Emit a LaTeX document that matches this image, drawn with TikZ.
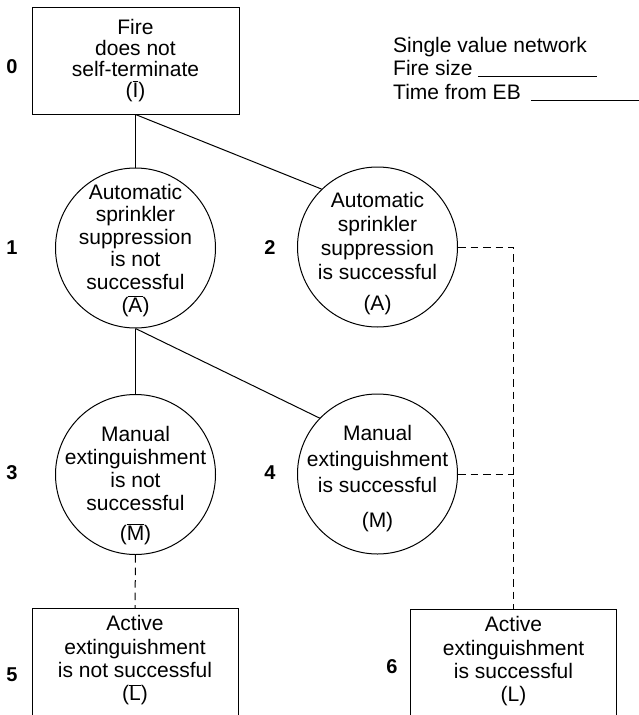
\documentclass[tikz,border=0pt]{standalone}
\usepackage{fontspec}
\setmainfont{Liberation Sans}
% letter with a bar over it, for the complementary events
\newcommand{\barred}[1]{\ensuremath{\overline{\hbox{#1}}}}
% struts that set the height of a first line / depth of a last line
\newcommand{\firstline}[1]{\rule{0pt}{#1pt}}
\newcommand{\lastline}{\rule[-5pt]{0pt}{5pt}}
\begin{document}
\begin{tikzpicture}[x=1pt,y=-1pt,
  spaced/.style={font=\fontsize{21}{#1}\selectfont},
  stage/.style={font=\fontsize{20}{24}\selectfont\bfseries, inner sep=0pt},
  solidlink/.style={line width=1pt},
  dashlink/.style={line width=1pt, dash pattern=on 7.5pt off 5pt},
  event/.style={draw, line width=1pt, circle, minimum size=160pt, inner sep=-40pt, align=center},
  outcome/.style={draw, line width=1pt, rectangle, minimum width=206pt, inner xsep=4pt, inner ysep=7pt, align=center, anchor=north},
  legend/.style={font=\fontsize{21}{24}\selectfont, inner sep=0pt, anchor=base west}
]
\useasboundingbox (0,0) rectangle (639,715);
\clip (0,0) rectangle (639,715);

% initial event
\node[outcome, anchor=center, minimum width=207pt, minimum height=107pt, spaced=21]
  (b0) at (135.5,60.5) {Fire\\does not\\self-terminate\\(\barred{I})\lastline};

% sprinkler branch
\node[event, spaced=22.5] (c1) at (135.5,248)
  {\firstline{20}Automatic\\sprinkler\\suppression\\is not\\successful\\[0.5pt](\barred{A})\lastline};
\node[event, spaced=24] (c2) at (377.5,247)
  {\firstline{28}Automatic\\sprinkler\\suppression\\is successful\\[7pt](A)\lastline};

% manual branch
\node[event, spaced=22.7] (c3) at (135.5,474.5)
  {\firstline{38}Manual\\extinguishment\\is not\\successful\\[7.3pt](\barred{M})\lastline};
\node[event, spaced=26] (c4) at (377.5,474)
  {\firstline{24}Manual\\extinguishment\\is successful\\[9pt](M)\lastline};

% outcomes (run off the bottom edge)
\node[outcome, spaced=23.3] (b5) at (135,608)
  {Active\\extinguishment\\is not successful\\(\barred{L})\rule[-60pt]{0pt}{0pt}};
\node[outcome, spaced=23.3] (b6) at (513.5,609)
  {Active\\extinguishment\\is successful\\(L)\rule[-60pt]{0pt}{0pt}};

% stage numbers
\node[stage] (s0) at (12,67) {0};
\node[stage] (s1) at (12,248) {1};
\node[stage] (s2) at (270,248) {2};
\node[stage] (s3) at (12,473) {3};
\node[stage] (s4) at (270,473) {4};
\node[stage] (s5) at (12,675) {5};
\node[stage] (s6) at (392,667) {6};

% legend with blanks
\node[legend] (lgA) at (393,52) {Single value network};
\node[legend] (lgB) at (393,75) {Fire size};
\node[legend] (lgC) at (393,99.5) {Time from EB};
\coordinate (lgBend) at (597,76);
\coordinate (lgCend) at (645,100.5);
\draw[line width=1pt] ([xshift=5pt,yshift=-1pt]lgB.base east) -- (lgBend);
\draw[line width=1pt] ([xshift=10pt,yshift=-1pt]lgC.base east) -- (lgCend);

% tree branches
\draw[solidlink] (b0.south) -- (c1.north);
\draw[solidlink] (b0.south) -- (c2.134);
\draw[solidlink] (c1.south) -- (c3.north);
\draw[solidlink] (c1.south) -- (c4.136);

% links to the outcomes
\draw[dashlink] (c3.south) -- (b5.north);
\draw[dashlink] (c2.east) -- (c2.east -| b6.north) -- (b6.north);
\draw[dashlink] (c4.east) -- (c4.east -| b6.north);
\end{tikzpicture}
\end{document}
